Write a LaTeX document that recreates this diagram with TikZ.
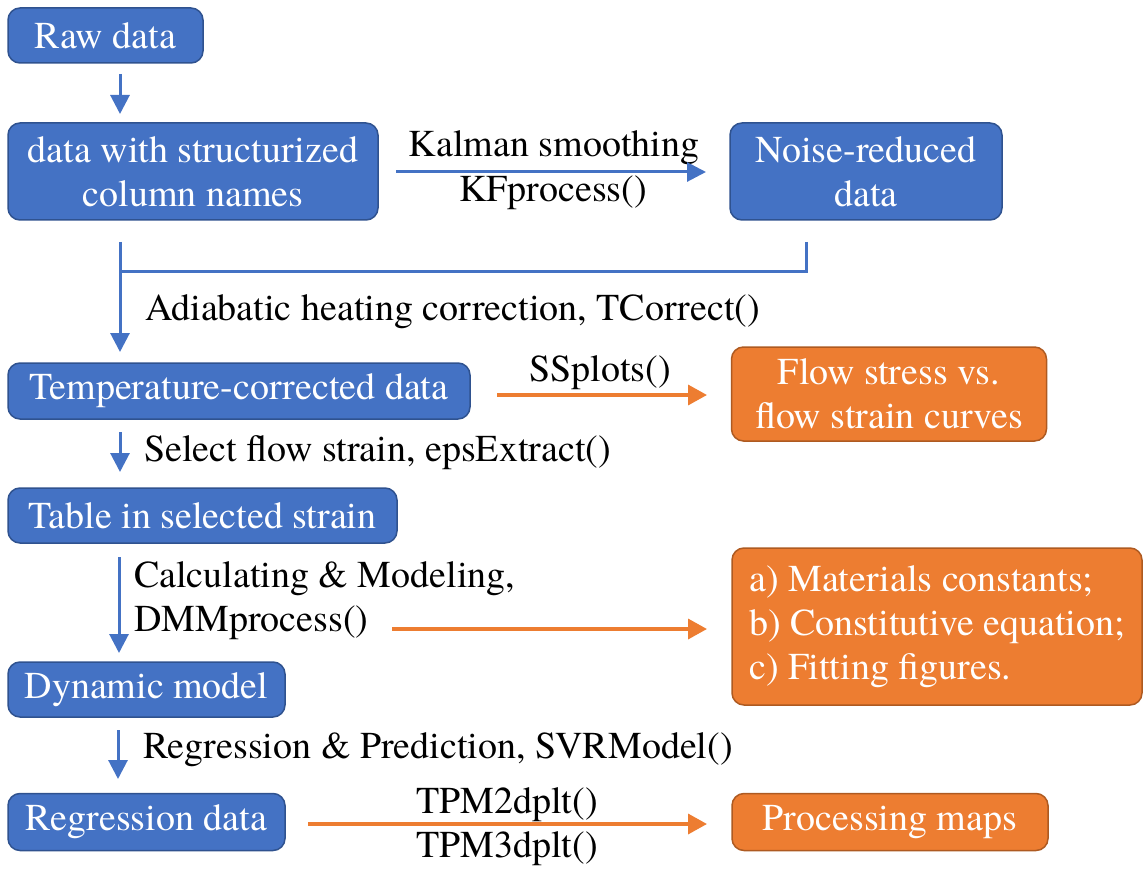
\documentclass[tikz,border=0pt]{standalone}
\usepackage{fontspec}
\setmainfont{texgyretermes}[Extension=.otf, UprightFont=*-regular, BoldFont=*-bold, ItalicFont=*-italic, BoldItalicFont=*-bolditalic]
\usetikzlibrary{arrows.meta}
\definecolor{bfill}{HTML}{4472C4}
\definecolor{bdraw}{HTML}{2F528F}
\definecolor{ofill}{HTML}{ED7D31}
\definecolor{odraw}{HTML}{AE5A21}
\begin{document}
\begin{tikzpicture}[x=1pt,y=-1pt,
  box/.style={rounded corners=12pt, line width=1.5pt, text=white, font=\rmfamily\fontsize{38}{44}\selectfont, align=center, inner sep=0pt},
  bbox/.style={box, fill=bfill, draw=bdraw},
  obox/.style={box, fill=ofill, draw=odraw},
  lbl/.style={font=\rmfamily\fontsize{38}{44}\selectfont, inner sep=0pt, text height=26pt, text depth=8pt},
  barrow/.style={draw=bfill, line width=3pt, -{Triangle[width=19pt,length=19pt]}},
  oarrow/.style={draw=ofill, line width=3.5pt, -{Triangle[width=20pt,length=19pt]}},
  bline/.style={draw=bfill, line width=3pt},
]
\useasboundingbox (0,0) rectangle (1145,893);
% boxes
\node[bbox, minimum width=195pt, minimum height=55pt] (raw) at (105.5,35.5) {Raw data};
\node[bbox, minimum width=370pt, minimum height=97pt] (dws) at (193,171.5) {data with structurized\\column names};
\node[bbox, minimum width=272pt, minimum height=97pt] (noise) at (866,171.5) {Noise-reduced\\data};
\node[bbox, minimum width=462pt, minimum height=56pt] (temp) at (239,391) {Temperature-corrected data};
\node[obox, minimum width=315pt, minimum height=94pt] (flow) at (889,394) {Flow stress vs.\\flow strain curves};
\node[bbox, minimum width=389pt, minimum height=55pt] (table) at (202.5,515.5) {Table in selected strain};
\node[obox, minimum width=410pt, minimum height=157pt, align=left] (abc) at (937,626.5) {a) Materials constants;\\b) Constitutive equation;\\c) Fitting figures.};
\node[bbox, minimum width=277pt, minimum height=55pt] (dyn) at (146.5,689.5) {Dynamic model};
\node[bbox, minimum width=277pt, minimum height=57pt] (reg) at (146.5,822) {Regression data};
\node[obox, minimum width=316pt, minimum height=57pt] (maps) at (890,822) {Processing maps};
% labels
\node[lbl] (lkal) at (554,148) {Kalman smoothing};
\node[lbl] (lkf) at (553,193) {KFprocess()};
\node[lbl, anchor=west] (ladi) at (145,311) {Adiabatic heating correction, TCorrect()};
\node[lbl] (lss) at (600,372) {SSplots()};
\node[lbl, anchor=west] (lsel) at (144,452) {Select flow strain, epsExtract()};
\node[lbl, anchor=west] (lcalc) at (134,578) {Calculating \& Modeling,};
\node[lbl, anchor=west] (ldmm) at (134,622) {DMMprocess()};
\node[lbl, anchor=west] (lreg) at (143,749) {Regression \& Prediction, SVRModel()};
\node[lbl] (ltpm2) at (507,804) {TPM2dplt()};
\node[lbl] (ltpm3) at (507,848) {TPM3dplt()};
% connector end points
\coordinate (a1) at (120,74);   \coordinate (a2) at (120,114);
\coordinate (k1) at (396,172);  \coordinate (k2) at (706,172);
\coordinate (c1) at (120,242);  \coordinate (c2) at (120,352);
\coordinate (n1) at (806,242);  \coordinate (n2) at (806,271); \coordinate (n3) at (120,271);
\coordinate (s1) at (497,395);  \coordinate (s2) at (707,395);
\coordinate (e1) at (120,432);  \coordinate (e2) at (120,472);
\coordinate (d1) at (119,557);  \coordinate (d2) at (119,653);
\coordinate (o1) at (392,629);  \coordinate (o2) at (707,629);
\coordinate (r1) at (118,730);  \coordinate (r2) at (118,779);
\coordinate (t1) at (308,824);  \coordinate (t2) at (707,824);
% connectors
\draw[barrow] (a1) -- (a2);
\draw[barrow] (k1) -- (k2);
\draw[barrow] (c1) -- (c2);
\draw[bline] (n1) -- (n2) -- (n3);
\draw[oarrow] (s1) -- (s2);
\draw[barrow] (e1) -- (e2);
\draw[barrow] (d1) -- (d2);
\draw[oarrow] (o1) -- (o2);
\draw[barrow] (r1) -- (r2);
\draw[oarrow] (t1) -- (t2);
\end{tikzpicture}
\end{document}
